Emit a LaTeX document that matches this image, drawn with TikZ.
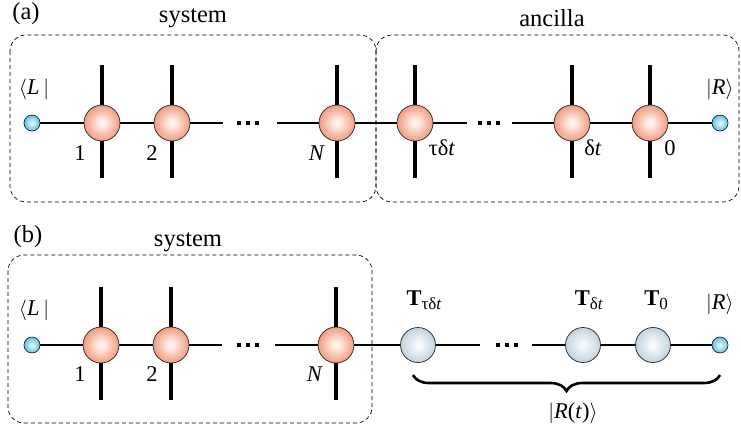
\documentclass[tikz,border=0pt]{standalone}
\usepackage{fontspec}
\setmainfont{Liberation Serif}
\usetikzlibrary{decorations.pathreplacing}
\definecolor{orO}{HTML}{F0906E}
\definecolor{orI}{HTML}{FFF3EE}
\definecolor{blO}{HTML}{45B8E8}
\definecolor{blI}{HTML}{E2F7FE}
\definecolor{grO}{HTML}{BCCDDA}
\definecolor{grI}{HTML}{F7FAFC}
\pgfdeclareradialshading{orbO}{\pgfpoint{0bp}{0bp}}{color(0bp)=(orI); color(3bp)=(orI); color(28bp)=(orO); color(50bp)=(orO)}
\pgfdeclareradialshading{orbB}{\pgfpoint{0bp}{0bp}}{color(0bp)=(blI); color(3bp)=(blI); color(28bp)=(blO); color(50bp)=(blO)}
\pgfdeclareradialshading{orbG}{\pgfpoint{0bp}{0bp}}{color(0bp)=(grI); color(3bp)=(grI); color(28bp)=(grO); color(50bp)=(grO)}
\begin{document}
\begin{tikzpicture}[x=1pt,y=-1pt,
  site/.style={circle, draw=black!85, line width=0.7pt, minimum size=36pt, inner sep=0pt, shading=orbO},
  tnode/.style={circle, draw=black!85, line width=0.7pt, minimum size=35pt, inner sep=0pt, shading=orbG},
  bdot/.style={circle, draw=black!85, line width=0.7pt, minimum size=16pt, inner sep=0pt, shading=orbB},
  bond/.style={line width=1.4pt},
  leg/.style={line width=4pt},
  dotsn/.style={inner sep=0pt, minimum size=4pt},
  lab/.style={font=\fontsize{22.5}{22.5}\selectfont, inner sep=0pt},
  ttl/.style={font=\fontsize{24.5}{24.5}\selectfont, inner sep=0pt},
  box/.style={dash pattern=on 4pt off 3pt, rounded corners=16pt, line width=0.7pt},
  bracedeco/.style={decorate, decoration={brace, mirror, amplitude=16pt}, line width=2.6pt}]
\useasboundingbox (0,0) rectangle (741,432);

% ---------- panel (a) ----------
\node[ttl] (pa) at (26,14) {(a)};
\node[ttl] (sysa) at (193,18) {system};
\node[ttl] (anc) at (552,18) {ancilla};
\draw[box] (10,35) rectangle (376,202);
\draw[box] (376,35) rectangle (739,202);

\node[bdot] (La) at (32,123) {};
\node[site] (a1) at (102,123) {};
\node[site] (a2) at (172,123) {};
\coordinate (a2e) at (223,123);
\node[dotsn] (ad1) at (248,123) {};
\coordinate (aNs) at (277,123);
\node[site] (aN) at (337,123) {};
\node[site] (aT) at (415,123) {};
\coordinate (aTe) at (467,123);
\node[dotsn] (ad2) at (489,123) {};
\coordinate (aDs) at (512,123);
\node[site] (aD) at (572,123) {};
\node[site] (a0) at (650,123) {};
\node[bdot] (Ra) at (720,123) {};

\draw[bond] (La) -- (a1) -- (a2) -- (a2e);
\draw[bond] (aNs) -- (aN) -- (aT) -- (aTe);
\draw[bond] (aDs) -- (aD) -- (a0) -- (Ra);
\foreach \n in {a1,a2,aN,aT,aD,a0}{
  \draw[leg] (\n.north) -- ++(0,-40);
  \draw[leg] (\n.south) -- ++(0,37);
}
\foreach \d in {ad1,ad2}{
  \foreach \dx in {-9,0,9}{
    \fill ([shift={(\dx-2,-2)}]\d.center) rectangle ++(4,4);
  }
}
\node[lab] (Lla) at (34,89) {$\langle$\textit{L}\,$|$};
\node[lab] (Rla) at (720,89) {$|$\textit{R}$\rangle$};
\node[lab] (l1a) at (80,153) {1};
\node[lab] (l2a) at (152,153) {2};
\node[lab] (lNa) at (317,153) {\textit{N}};
\node[lab] (lTa) at (442,148) {τδ\textit{t}};
\node[lab] (lDa) at (593,148) {δ\textit{t}};
\node[lab] (l0a) at (670,148) {0};

% ---------- panel (b) ----------
\node[ttl] (pb) at (28,237) {(b)};
\node[ttl] (sysb) at (188,242) {system};
\draw[box] (8,255) rectangle (372,423);

\node[bdot] (Lb) at (32,345) {};
\node[site] (b1) at (101,345) {};
\node[site] (b2) at (171,345) {};
\coordinate (b2e) at (222,345);
\node[dotsn] (bd1) at (248,345) {};
\coordinate (bNs) at (275,345);
\node[site] (bN) at (336,345) {};
\node[tnode] (bT) at (418,345) {};
\coordinate (bTe) at (480,345);
\node[dotsn] (bd2) at (507,345) {};
\coordinate (bDs) at (532,345);
\node[tnode] (bD) at (583,345) {};
\node[tnode] (b0) at (653,345) {};
\node[bdot] (Rb) at (720,345) {};

\draw[bond] (Lb) -- (b1) -- (b2) -- (b2e);
\draw[bond] (bNs) -- (bN) -- (bT) -- (bTe);
\draw[bond] (bDs) -- (bD) -- (b0) -- (Rb);
\foreach \n in {b1,b2,bN}{
  \draw[leg] (\n.north) -- ++(0,-40);
  \draw[leg] (\n.south) -- ++(0,37);
}
\foreach \d in {bd1,bd2}{
  \foreach \dx in {-9,0,9}{
    \fill ([shift={(\dx-2,-2)}]\d.center) rectangle ++(4,4);
  }
}
\node[lab] (Llb) at (34,310) {$\langle$\textit{L}\,$|$};
\node[lab] (Rlb) at (720,304) {$|$\textit{R}$\rangle$};
\node[lab] (l1b) at (80,374) {1};
\node[lab] (l2b) at (152,374) {2};
\node[lab] (lNb) at (315,374) {\textit{N}};
\node[lab] (lTb) at (424,300) {\textbf{T}\raisebox{-0.35ex}{\fontsize{17}{17}\selectfont τδ\textit{t}}};
\node[lab] (lDb) at (589,300) {\textbf{T}\raisebox{-0.35ex}{\fontsize{17}{17}\selectfont δ\textit{t}}};
\node[lab] (l0b) at (656,300) {\textbf{T}\raisebox{-0.35ex}{\fontsize{17}{17}\selectfont 0}};

\coordinate (bL) at (413,375);
\coordinate (bR) at (720,375);
\draw[bracedeco] (bL) -- (bR);
\node[lab] (Rt) at (573,413) {$|$\textit{R}(\textit{t})$\rangle$};
\end{tikzpicture}
\end{document}
